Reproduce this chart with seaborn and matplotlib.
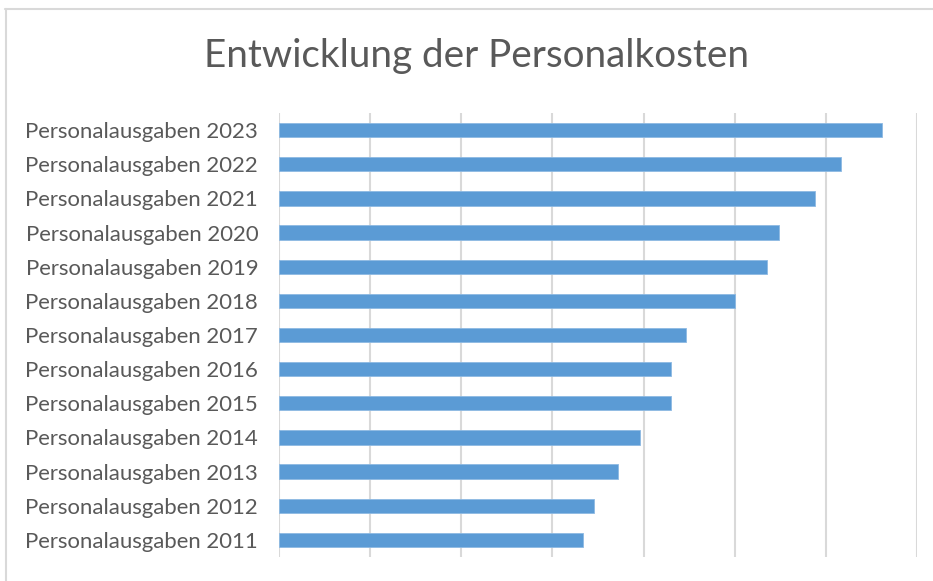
import matplotlib
matplotlib.use("Agg")
import matplotlib.pyplot as plt
import seaborn as sns
import pandas as pd
from matplotlib.lines import Line2D

# values, in units of one gridline step (no axis labels shown)
years = [2023, 2022, 2021, 2020, 2019, 2018, 2017, 2016, 2015, 2014, 2013, 2012, 2011]
labels = [f"Personalausgaben {y}" for y in years]
costs = [6.62, 6.16, 5.88, 5.48, 5.35, 5.00, 4.47, 4.30, 4.30, 3.96, 3.72, 3.46, 3.33]

df = pd.DataFrame({"label": labels, "value": costs})

sns.set_theme(style="white")
plt.rcParams["font.family"] = ["Lato", "DejaVu Sans"]

fig = plt.figure(figsize=(9.33, 5.81), dpi=100)
ax = fig.add_axes([0.299, 0.0413, 0.684, 0.7642])

sns.barplot(data=df, x="value", y="label", color="#5B9BD5", width=0.42,
            saturation=1, edgecolor="#8DB9E3", linewidth=0.6, ax=ax, zorder=3)

ax.set_xlim(0, 7)
ax.set_xticks(range(0, 8))
ax.xaxis.grid(True, color="#D9D9D9", linewidth=1.5, zorder=0)
ax.set_axisbelow(True)
ax.set_xticklabels([])
ax.tick_params(axis="x", length=0)
ax.tick_params(axis="y", length=0, pad=15, labelsize=15.9, labelcolor="#595959")
ax.set_xlabel("")
ax.set_ylabel("")
for s in ax.spines.values():
    s.set_visible(False)

fig.text(0.511, 0.903, "Entwicklung der Personalkosten", ha="center", va="center",
         fontsize=27.8, color="#595959")

# chart frame (top and left edges visible)
fig.add_artist(Line2D([0.005, 1.0], [1 - 8.5 / 581, 1 - 8.5 / 581], color="#D9D9D9",
                      linewidth=1.5, transform=fig.transFigure))
fig.add_artist(Line2D([5.5 / 933, 5.5 / 933], [0, 1 - 8.5 / 581], color="#D9D9D9",
                      linewidth=1.5, transform=fig.transFigure))

fig.savefig("out.png", dpi=100)
